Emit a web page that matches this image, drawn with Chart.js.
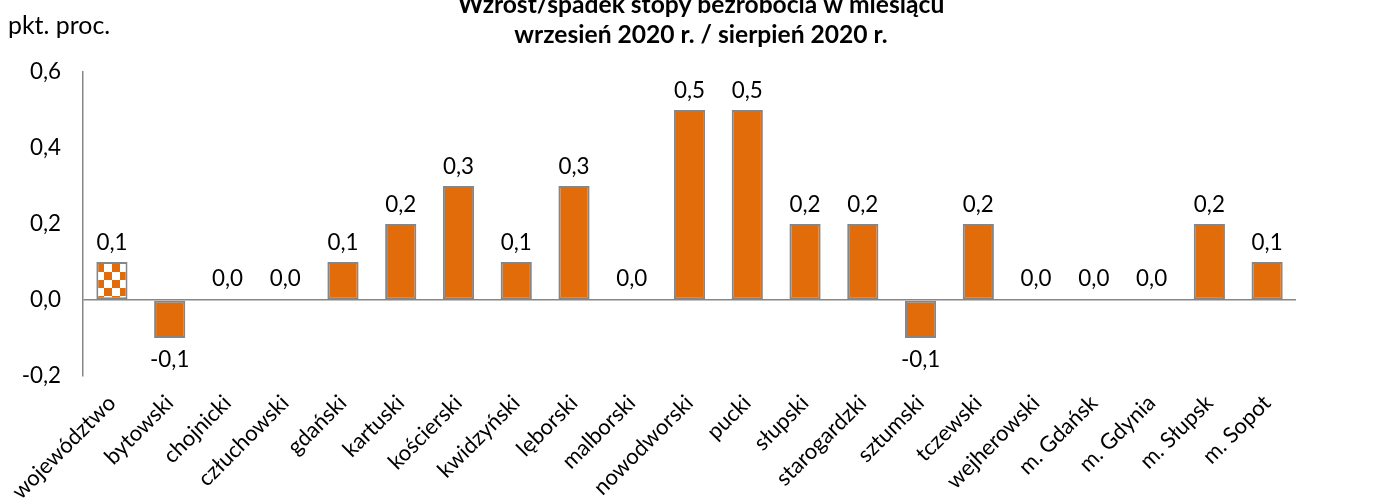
<!DOCTYPE html>
<html><head><meta charset="utf-8">
<script src="https://cdn.jsdelivr.net/npm/chart.js@4/dist/chart.umd.min.js"></script>
<style>html,body{margin:0;padding:0;background:#fff;overflow:hidden}#wrap{position:absolute;left:0;top:0;width:1384px;height:504px}</style>
</head><body><div id="wrap"><canvas id="c"></canvas></div>
<script>
const categories = ["województwo","bytowski","chojnicki","człuchowski","gdański","kartuski","kościerski","kwidzyński","lęborski","malborski","nowodworski","pucki","słupski","starogardzki","sztumski","tczewski","wejherowski","m. Gdańsk","m. Gdynia","m. Słupsk","m. Sopot"];
const values = [0.1,-0.1,0.0,0.0,0.1,0.2,0.3,0.1,0.3,0.0,0.5,0.5,0.2,0.2,-0.1,0.2,0.0,0.0,0.0,0.2,0.1];
const yTicks = [-0.2,0.0,0.2,0.4,0.6];
const titleLines = ["Wzrost/spadek stopy bezrobocia w miesiącu","wrzesień 2020 r. / sierpień 2020 r."];
const unitLabel = "pkt. proc.";

const ORANGE = "#E36C0A";
const FONT = "Lato, 'Open Sans', sans-serif";
const fmt = v => v.toFixed(1).replace(".", ",");

// font sizes fitted to the reference text widths
const mc = document.createElement("canvas").getContext("2d");
function fit(text, target, weight) {
  mc.font = (weight || "normal") + " 100px " + FONT;
  return Math.round(100 * target / mc.measureText(text).width * 10) / 10;
}
const numSize = fit("0,6", 31);
const xSize = fit("województwo", 136);
const titleSize = fit(titleLines[1], 373, "bold");
const unitSize = fit(unitLabel, 102);

// checkered pattern for first bar
const pc = document.createElement("canvas"); pc.width = 16; pc.height = 16;
const px = pc.getContext("2d");
px.fillStyle = "#fff"; px.fillRect(0,0,16,16);
px.fillStyle = ORANGE; px.fillRect(8,0,8,8); px.fillRect(0,8,8,8);
const pattern = px.createPattern(pc, "repeat");
const colors = values.map((v,i) => i === 0 ? pattern : ORANGE);

const textPlugin = {
  id: "texts",
  afterDatasetsDraw(chart) {
    const ctx = chart.ctx;
    const meta = chart.getDatasetMeta(0);
    const yScale = chart.scales.y;
    ctx.save();
    ctx.fillStyle = "#000";
    ctx.font = numSize + "px " + FONT;
    ctx.textAlign = "center";
    ctx.textBaseline = "middle";
    meta.data.forEach((bar, i) => {
      const v = values[i];
      let y;
      if (v > 0) y = bar.y - 19;
      else if (v < 0) y = bar.y + 22;
      else y = yScale.getPixelForValue(0) - 21;
      ctx.fillText(fmt(v), bar.x, y);
    });
    ctx.textBaseline = "alphabetic";
    ctx.font = "bold " + titleSize + "px " + FONT;
    ctx.fillText(titleLines[0], 701, 13);
    ctx.fillText(titleLines[1], 701, 43);
    ctx.font = unitSize + "px " + FONT;
    ctx.textAlign = "left";
    ctx.fillText(unitLabel, 8, 34);
    ctx.restore();
  }
};

new Chart(document.getElementById("c"), {
  type: "bar",
  data: { labels: categories, datasets: [{ data: values, backgroundColor: colors, borderColor: "#868686", borderWidth: 2, borderSkipped: false, barPercentage: 0.54, categoryPercentage: 1.0 }] },
  options: {
    responsive: true, maintainAspectRatio: false, animation: false,
    layout: { padding: { top: 72, right: 88, left: 0, bottom: 0 } },
    plugins: { legend: { display: false }, tooltip: { enabled: false }, title: { display: false } },
    scales: {
      x: {
        grid: { display: false, drawTicks: false },
        border: { display: false },
        ticks: { color: "#000", font: { family: FONT, size: xSize }, minRotation: 45, maxRotation: 45, autoSkip: false, padding: 14 },
        afterFit(s) { s.height = 128; }
      },
      y: {
        min: -0.2, max: 0.6,
        afterBuildTicks(s) { s.ticks = yTicks.map(v => ({ value: v })); },
        grid: { drawTicks: false, color: c => (c.tick && c.tick.value === 0) ? "#868686" : "rgba(0,0,0,0)", lineWidth: 1.5 },
        border: { display: true, color: "#868686", width: 1.5 },
        ticks: { color: "#000", font: { family: FONT, size: numSize }, padding: 22, callback: v => fmt(v) },
        afterFit(s) { s.width = 82; }
      }
    }
  },
  plugins: [textPlugin]
});
</script></body></html>
